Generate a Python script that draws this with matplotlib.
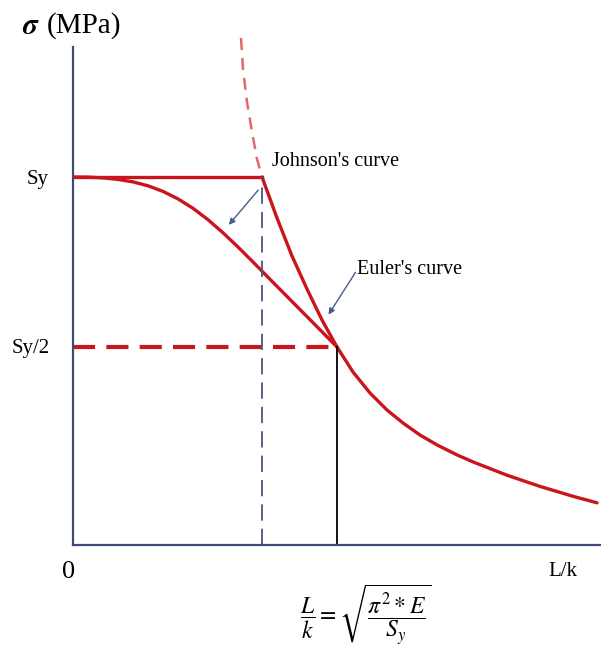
import matplotlib
matplotlib.use("Agg")
import matplotlib.pyplot as plt

plt.rcParams['font.family'] = ['Liberation Serif', 'DejaVu Serif']
plt.rcParams['mathtext.fontset'] = 'stix'

# slenderness (L/k) vs stress, in drawing units
euler_dash_x = [168, 170, 174, 179, 184, 189]
euler_dash_y = [507, 476, 443, 413, 386, 368]

euler_x = [189, 204, 219, 234, 249, 264, 280, 297, 314, 330, 347, 364, 384, 400, 434, 467, 500, 524]
euler_y = [368, 327, 289, 256, 225, 198, 173, 152, 135, 122, 110, 100.1, 90.1, 83.1, 69.8, 58.6, 48.7, 42.2]

johnson_x = [0, 15, 30, 45, 60, 75, 90, 105, 120, 135, 150, 165, 180, 200, 222, 243, 264]
johnson_y = [368, 367.9, 367.1, 365.6, 363.1, 359.2, 353.6, 346.1, 336.7, 325.3, 312.2, 298.0, 283.0, 262.7, 240.5, 219.3, 198]

sy = 368
sy_half = 198
x_tangent = 189
x_critical = 264

red = '#c8161c'

fig = plt.figure(figsize=(6.01, 6.52), dpi=100)
ax = fig.add_axes([73 / 601, 107 / 652, 528 / 601, 500 / 652])
ax.set_xlim(0, 528)
ax.set_ylim(0, 500)

for s in ['top', 'right']:
    ax.spines[s].set_visible(False)
for s in ['left', 'bottom']:
    ax.spines[s].set_color('#3f4a78')
    ax.spines[s].set_linewidth(1.6)
ax.spines['left'].set_bounds(0, 498)
ax.set_xticks([])
ax.set_yticks([])

# Euler curve (dashed above the yield line)
ax.plot(euler_dash_x, euler_dash_y, color='#e06a6a', lw=1.8, ls=(0, (4.8, 3.2)), clip_on=False)
ax.plot(euler_x, euler_y, color=red, lw=2.4, solid_capstyle='round', solid_joinstyle='round')

# yield plateau and Johnson parabola
ax.plot([0, x_tangent], [sy, sy], color=red, lw=2.4)
ax.plot(johnson_x, johnson_y, color=red, lw=2.4, solid_joinstyle='round')

# guide lines
ax.plot([0, x_critical], [sy_half, sy_half], color=red, lw=3, ls=(0, (5.3, 2.7)))
ax.plot([x_tangent, x_tangent], [0, sy], color='#4a5582', lw=1.3, ls=(0, (9, 4.5)))
ax.plot([x_critical, x_critical], [0, sy_half], color='black', lw=1.3)

# labels
arrow = dict(arrowstyle='-|>', color='#4a5a8c', lw=1.0, mutation_scale=9)
ax.text(199, 379, "Johnson's curve", fontsize=14.5, va='baseline')
ax.annotate('', xy=(154, 318), xytext=(187, 357), arrowprops=arrow)
ax.text(284, 271, "Euler's curve", fontsize=14.5, va='baseline')
ax.annotate('', xy=(254, 228), xytext=(284, 275), arrowprops=arrow)

fig.text(22 / 601, 1 - 27 / 652, r'$\boldsymbol{\sigma}$', fontsize=21, va='center')
fig.text(47 / 601, 1 - 26 / 652, '(MPa)', fontsize=21, va='center')
fig.text(27 / 601, 1 - 179 / 652, 'Sy', fontsize=15, va='center')
fig.text(12 / 601, 1 - 348 / 652, 'Sy/2', fontsize=15, va='center')
fig.text(62 / 601, 1 - 572 / 652, '0', fontsize=19, va='center')
fig.text(548 / 601, 1 - 572 / 652, 'L/k', fontsize=15, va='center')
fig.text(300 / 601, 1 - 615 / 652, r'$\dfrac{L}{k} = \sqrt{\dfrac{\pi^2 * E}{S_y}}$',
         fontsize=17, ha='left', va='center')

fig.savefig('out.png', dpi=100)
